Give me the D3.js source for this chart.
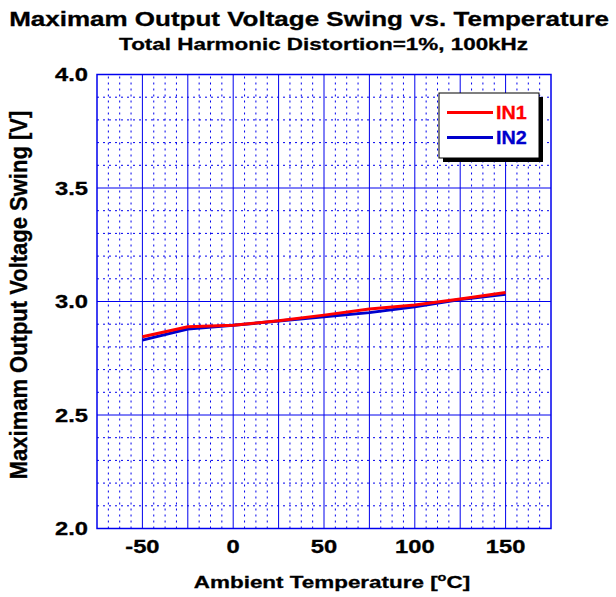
<!DOCTYPE html>
<html><head><meta charset="utf-8">
<script src="https://cdn.jsdelivr.net/npm/d3@7/dist/d3.min.js"></script>
<style>body{margin:0;background:#fff}text{font-family:"Liberation Sans",Arial,sans-serif;font-weight:bold;stroke:currentColor;stroke-width:0.3px}</style>
</head><body>
<script>
const temps = [-50, -25, 0, 25, 50, 75, 100, 125, 150];
const in1 = [2.845, 2.889, 2.895, 2.915, 2.940, 2.967, 2.985, 3.011, 3.040];
const in2 = [2.830, 2.879, 2.895, 2.914, 2.933, 2.951, 2.977, 3.009, 3.032];
const seriesNames = ["IN1", "IN2"];
const seriesColors = ["#ff0000", "#0000cc"];
const xTicks = [-50, 0, 50, 100, 150];
const yTicks = [2.0, 2.5, 3.0, 3.5, 4.0];

const W = 616, H = 597;
const m = {l: 97, r: 65, t: 74.5, b: 68.5};
const SX = 1.32;
const svg = d3.select("body").append("svg").attr("width", W).attr("height", H);
const x = d3.scaleLinear().domain([-75, 175]).range([m.l, W - m.r]);
const y = d3.scaleLinear().domain([2.0, 4.0]).range([H - m.b, m.t]);
const g = svg.append("g");
const grid = "#0000ee";

function stext(parent, tx, ty, sx, size, anchor, str, color) {
  const c = color || "#000";
  const gg = parent.append("g").attr("transform", `translate(${tx},${ty}) scale(${sx},1)`);
  return gg.append("text").attr("text-anchor", anchor).attr("font-size", size)
    .attr("fill", c).style("color", c).text(str);
}

// minor dotted grid
const vMinor = d3.range(-75, 175.01, 6.25).filter(v => Math.abs(v % 25) > 0.01);
g.selectAll(".vmin").data(vMinor).join("line")
  .attr("x1", d => x(d)).attr("x2", d => x(d)).attr("y1", y(2)).attr("y2", y(4))
  .attr("stroke", grid).attr("stroke-width", 1).attr("stroke-dasharray", "2,4");
const hMinor = d3.range(2.0, 4.001, 0.1).filter(v => { const r = Math.round(v * 10) % 5; return r !== 0; });
g.selectAll(".hmin").data(hMinor).join("line")
  .attr("x1", x(-75)).attr("x2", x(175)).attr("y1", d => y(d)).attr("y2", d => y(d))
  .attr("stroke", grid).attr("stroke-width", 1).attr("stroke-dasharray", "2,4");
// major grid
g.selectAll(".vmaj").data(d3.range(-50, 175, 25)).join("line")
  .attr("x1", d => x(d)).attr("x2", d => x(d)).attr("y1", y(2)).attr("y2", y(4))
  .attr("stroke", grid).attr("stroke-width", 1);
g.selectAll(".hmaj").data([2.5, 3.0, 3.5]).join("line")
  .attr("x1", x(-75)).attr("x2", x(175)).attr("y1", d => y(d)).attr("y2", d => y(d))
  .attr("stroke", grid).attr("stroke-width", 1);
// frame
g.append("rect").attr("x", x(-75)).attr("y", y(4)).attr("width", x(175) - x(-75)).attr("height", y(2) - y(4))
  .attr("fill", "none").attr("stroke", grid).attr("stroke-width", 1.5);

// series lines
const line = d3.line().x((d, i) => x(temps[i])).y(d => y(d));
g.append("path").attr("d", line(in2)).attr("fill", "none").attr("stroke", seriesColors[1]).attr("stroke-width", 3);
g.append("path").attr("d", line(in1)).attr("fill", "none").attr("stroke", seriesColors[0]).attr("stroke-width", 3);

// tick labels
const fy = d3.format(".1f");
xTicks.forEach(t => stext(svg, x(t), y(2) + 24.5, SX, 18, "middle", String(t)));
yTicks.forEach(t => stext(svg, x(-75) - 9, y(t) + 6.5, SX, 18, "end", fy(t)));

// titles
stext(svg, 609, 26, 1.3, 20, "end", "Maximam Output Voltage Swing vs. Temperature");
stext(svg, 528, 50, SX, 17, "end", "Total Harmonic Distortion=1%, 100kHz");
const xt = stext(svg, 332, 588, SX, 17, "middle", "");
xt.append("tspan").text("Ambient Temperature [");
xt.append("tspan").attr("font-size", 11).attr("dy", -7).text("o");
xt.append("tspan").attr("dy", 7).text("C]");
svg.append("g").attr("transform", `translate(27,295) scale(1.1,1) rotate(-90)`)
  .append("text").attr("text-anchor", "middle")
  .attr("font-size", 22).attr("fill", "#000").style("color", "#000").text("Maximam Output Voltage Swing [V]");

// legend
const lg = svg.append("g");
lg.append("rect").attr("x", 443).attr("y", 97).attr("width", 100).attr("height", 65).attr("fill", "#000");
lg.append("rect").attr("x", 439).attr("y", 93).attr("width", 100).attr("height", 65).attr("fill", "#fff").attr("stroke", "#000").attr("stroke-width", 1);
seriesNames.forEach((n, i) => {
  const yy = 112.5 + i * 25;
  lg.append("line").attr("x1", 447).attr("x2", 493).attr("y1", yy).attr("y2", yy).attr("stroke", seriesColors[i]).attr("stroke-width", 3);
  stext(lg, 496, yy + 6.5, 1.1, 18, "start", n, seriesColors[i]);
});
</script>
</body></html>
